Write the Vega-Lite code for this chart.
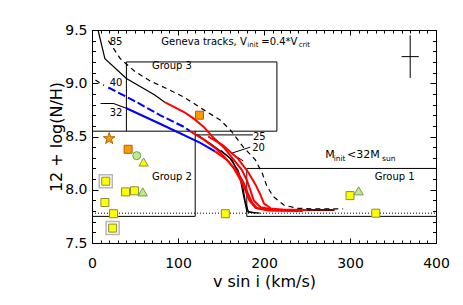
{
 "$schema": "https://vega.github.io/schema/vega-lite/v6.json",
 "width": 344, "height": 213,
 "autosize": "none",
 "padding": {"left": 92, "top": 30, "right": 27, "bottom": 62},
 "background": "white",
 "config": {"view": {"stroke": null}, "font": "DejaVu Sans",
   "axis": {"grid": false, "tickColor": "black", "domainColor": "black", "labelColor": "black", "titleColor": "black", "tickWidth": 1, "domainWidth": 1}},
 "datasets": {
  "tracks": [
   {"s":"A1","c":"k","d":"s","x":7,"y":9.5},{"s":"A1","c":"k","d":"s","x":15,"y":9.23},{"s":"A1","c":"k","d":"s","x":40,"y":9.045},{"s":"A1","c":"k","d":"s","x":73,"y":8.89},{"s":"A1","c":"k","d":"s","x":85,"y":8.82},
   {"s":"A2","c":"r","d":"s","x":85,"y":8.82},{"s":"A2","c":"r","d":"s","x":107,"y":8.73},{"s":"A2","c":"r","d":"s","x":118,"y":8.67},{"s":"A2","c":"r","d":"s","x":130,"y":8.59},{"s":"A2","c":"r","d":"s","x":141,"y":8.49},{"s":"A2","c":"r","d":"s","x":153,"y":8.40},{"s":"A2","c":"r","d":"s","x":163,"y":8.30},{"s":"A2","c":"r","d":"s","x":174,"y":8.19},{"s":"A2","c":"r","d":"s","x":180,"y":8.09},{"s":"A2","c":"r","d":"s","x":184,"y":8.00},{"s":"A2","c":"r","d":"s","x":188,"y":7.90},{"s":"A2","c":"r","d":"s","x":196,"y":7.835},{"s":"A2","c":"r","d":"s","x":211,"y":7.815},{"s":"A2","c":"r","d":"s","x":250,"y":7.81},
   {"s":"A3","c":"dr","d":"s","x":250,"y":7.81},{"s":"A3","c":"dr","d":"s","x":282,"y":7.81},
   {"s":"B1","c":"k","d":"dash","x":19,"y":9.40},{"s":"B1","c":"k","d":"dash","x":33,"y":9.23},{"s":"B1","c":"k","d":"dash","x":50,"y":9.11},{"s":"B1","c":"k","d":"dash","x":68,"y":9.02},{"s":"B1","c":"k","d":"dash","x":87,"y":8.95},{"s":"B1","c":"k","d":"dash","x":107,"y":8.87},{"s":"B1","c":"k","d":"dash","x":130,"y":8.75},{"s":"B1","c":"k","d":"dash","x":149,"y":8.655},{"s":"B1","c":"k","d":"dash","x":161,"y":8.56},{"s":"B1","c":"k","d":"dash","x":176,"y":8.40},{"s":"B1","c":"k","d":"dash","x":190,"y":8.28},{"s":"B1","c":"k","d":"dash","x":198,"y":8.155},{"s":"B1","c":"k","d":"dash","x":203.5,"y":8.03},{"s":"B1","c":"k","d":"dash","x":211,"y":7.935},{"s":"B1","c":"k","d":"dash","x":223,"y":7.857},{"s":"B1","c":"k","d":"dash","x":238,"y":7.826},{"s":"B1","c":"k","d":"dash","x":260,"y":7.82},{"s":"B1","c":"k","d":"dash","x":292,"y":7.82},
   {"s":"C1","c":"k","d":"dash","x":4,"y":9.03},{"s":"C1","c":"k","d":"dash","x":14,"y":8.98},
   {"s":"C2","c":"b","d":"dash","x":19,"y":8.96},{"s":"C2","c":"b","d":"dash","x":48,"y":8.84},{"s":"C2","c":"b","d":"dash","x":79,"y":8.70},{"s":"C2","c":"b","d":"dash","x":107,"y":8.59},{"s":"C2","c":"b","d":"dash","x":114,"y":8.55},
   {"s":"C3","c":"r","d":"s","x":114,"y":8.55},{"s":"C3","c":"r","d":"s","x":130,"y":8.47},{"s":"C3","c":"r","d":"s","x":145,"y":8.38},{"s":"C3","c":"r","d":"s","x":155,"y":8.30},{"s":"C3","c":"r","d":"s","x":165,"y":8.20},{"s":"C3","c":"r","d":"s","x":172,"y":8.10},{"s":"C3","c":"r","d":"s","x":178,"y":8.00},{"s":"C3","c":"r","d":"s","x":183,"y":7.90},{"s":"C3","c":"r","d":"s","x":190,"y":7.83},{"s":"C3","c":"r","d":"s","x":205,"y":7.81},{"s":"C3","c":"r","d":"s","x":245,"y":7.80},
   {"s":"D1","c":"k","d":"s","x":10,"y":8.81},{"s":"D1","c":"k","d":"s","x":25,"y":8.81},{"s":"D1","c":"k","d":"s","x":40,"y":8.765},
   {"s":"D2","c":"b","d":"s","x":40,"y":8.765},{"s":"D2","c":"b","d":"s","x":79,"y":8.62},{"s":"D2","c":"b","d":"s","x":126,"y":8.44},{"s":"D2","c":"b","d":"s","x":143,"y":8.36},
   {"s":"D3","c":"r","d":"s","x":143,"y":8.36},{"s":"D3","c":"r","d":"s","x":157,"y":8.28},{"s":"D3","c":"r","d":"s","x":168,"y":8.18},{"s":"D3","c":"r","d":"s","x":176,"y":8.07},{"s":"D3","c":"r","d":"s","x":181,"y":7.97},{"s":"D3","c":"r","d":"s","x":186,"y":7.88},{"s":"D3","c":"r","d":"s","x":192,"y":7.825},{"s":"D3","c":"r","d":"s","x":205,"y":7.805},{"s":"D3","c":"r","d":"s","x":240,"y":7.80},
   {"s":"E1","c":"r","d":"s","x":135,"y":8.50},{"s":"E1","c":"r","d":"s","x":152,"y":8.42},{"s":"E1","c":"r","d":"s","x":170,"y":8.29},{"s":"E1","c":"r","d":"s","x":182,"y":8.16},{"s":"E1","c":"r","d":"s","x":190,"y":8.05},{"s":"E1","c":"r","d":"s","x":196,"y":7.95},{"s":"E1","c":"r","d":"s","x":200,"y":7.87},{"s":"E1","c":"r","d":"s","x":208,"y":7.825},{"s":"E1","c":"r","d":"s","x":222,"y":7.813},{"s":"E1","c":"r","d":"s","x":270,"y":7.81},
   {"s":"F1","c":"k","d":"s","x":122,"y":8.52},{"s":"F1","c":"k","d":"s","x":140,"y":8.42},{"s":"F1","c":"k","d":"s","x":160,"y":8.30},{"s":"F1","c":"k","d":"s","x":170,"y":8.18},{"s":"F1","c":"k","d":"s","x":175,"y":8.05},{"s":"F1","c":"k","d":"s","x":178,"y":7.90},{"s":"F1","c":"k","d":"s","x":182,"y":7.79},{"s":"F1","c":"k","d":"s","x":195,"y":7.78},
   {"s":"G1","c":"k","d":"s","x":150,"y":8.37},{"s":"G1","c":"k","d":"s","x":163,"y":8.28},{"s":"G1","c":"k","d":"s","x":172,"y":8.12},{"s":"G1","c":"k","d":"s","x":176,"y":7.95},{"s":"G1","c":"k","d":"s","x":180,"y":7.80},{"s":"G1","c":"k","d":"s","x":190,"y":7.78}
  ],
  "rules": [
   {"x":40,"y":8.55,"x2":40,"y2":9.2,"d":"s"},{"x":40,"y":9.2,"x2":215,"y2":9.2,"d":"s"},{"x":215,"y":9.2,"x2":215,"y2":8.55,"d":"s"},
   {"x":0,"y":8.55,"x2":215,"y2":8.55,"d":"s"},{"x":120,"y":8.55,"x2":120,"y2":7.75,"d":"s"},
   {"x":0,"y":7.75,"x2":120,"y2":7.75,"d":"s"},{"x":180,"y":7.75,"x2":400,"y2":7.75,"d":"s"},
   {"x":180,"y":7.75,"x2":180,"y2":8.2,"d":"s"},{"x":180,"y":8.2,"x2":400,"y2":8.2,"d":"s"},
   {"x":0,"y":7.78,"x2":400,"y2":7.78,"d":"dot"},
   {"x":120,"y":8.515,"x2":187,"y2":8.515,"d":"s"},
   {"x":162,"y":8.342,"x2":184,"y2":8.40,"d":"s"},{"x":162,"y":8.342,"x2":176,"y2":8.27,"d":"s"},
   {"x":370,"y":9.05,"x2":370,"y2":9.45,"d":"s"},{"x":360,"y":9.25,"x2":380,"y2":9.25,"d":"s"}
  ],
  "pts": [
   {"x":20,"y":8.48,"type":"star","framed":"no"},
   {"x":42,"y":8.38,"type":"osq","framed":"no"},
   {"x":125,"y":8.70,"type":"osq","framed":"no"},
   {"x":52,"y":8.32,"type":"gcirc","framed":"no"},
   {"x":60,"y":8.26,"type":"ytri","framed":"no"},
   {"x":16,"y":8.08,"type":"ysq","framed":"yes"},
   {"x":39,"y":7.98,"type":"ysq","framed":"no"},
   {"x":49.5,"y":7.99,"type":"ysq","framed":"no"},
   {"x":59,"y":7.98,"type":"gtri","framed":"no"},
   {"x":15,"y":7.88,"type":"ysq","framed":"no"},
   {"x":25,"y":7.775,"type":"ysq","framed":"no"},
   {"x":24,"y":7.64,"type":"ysq","framed":"yes"},
   {"x":155,"y":7.775,"type":"ysq","framed":"no"},
   {"x":300,"y":7.945,"type":"ysq","framed":"no"},
   {"x":310,"y":7.99,"type":"gtri","framed":"no"},
   {"x":330,"y":7.78,"type":"ysq","framed":"no"}
  ],
  "txt": [
   {"x":28,"y":9.39,"t":"85","r":"lab"},{"x":28,"y":9.005,"t":"40","r":"lab"},{"x":28,"y":8.72,"t":"32","r":"lab"},
   {"x":194.5,"y":8.50,"t":"25","r":"lab"},{"x":193.7,"y":8.39,"t":"20","r":"lab"},
   {"x":93,"y":9.16,"t":"Group 3","r":"grp"},{"x":93,"y":8.12,"t":"Group 2","r":"grp"},{"x":352,"y":8.12,"t":"Group 1","r":"grp"},
   {"x":80.6,"y":9.383,"t":"Geneva tracks, V","r":"main"},{"x":196.9,"y":9.383,"t":"=0.4*V","r":"main"},
   {"x":180.6,"y":9.383,"t":"init","r":"sub"},{"x":240.3,"y":9.383,"t":"crit","r":"sub"},
   {"x":271.3,"y":8.326,"t":"M","r":"mainb"},{"x":296.6,"y":8.326,"t":"<32M","r":"mainb"},
   {"x":281,"y":8.326,"t":"init","r":"subb"},{"x":337.2,"y":8.326,"t":"sun","r":"subb"}
  ]
 },
 "resolve": {"axis": {"x": "independent", "y": "independent"}},
 "layer": [
  {
   "encoding": {
    "x": {"field":"x","type":"quantitative","scale":{"domain":[0,400],"nice":false,"zero":false},
      "axis":{"orient":"bottom","values":[0,100,200,300,400],"tickSize":-5,"labelFont":"DejaVu Sans","labelFontSize":14,"labelPadding":18,"labelFlush":false,"title":"v sin i (km/s)","titleFont":"DejaVu Sans","titleFontSize":16,"titleFontWeight":"normal","titlePadding":3}},
    "y": {"field":"y","type":"quantitative","scale":{"domain":[7.5,9.5],"nice":false,"zero":false},
      "axis":{"orient":"left","values":[7.5,8,8.5,9,9.5],"format":".1f","tickSize":-6,"labelFont":"DejaVu Sans","labelFontSize":14,"labelPadding":11,"labelFlush":false,"title":"12 + log(N/H)","titleFont":"DejaVu Sans","titleFontSize":16,"titleFontWeight":"normal","titlePadding":0}}
   },
   "layer": [
    {"data":{"name":"rules"},"transform":[{"filter":"datum.d=='s'"}],"mark":{"type":"rule","color":"black","strokeWidth":1},
     "encoding":{"x2":{"field":"x2"},"y2":{"field":"y2"}}},
    {"data":{"name":"rules"},"transform":[{"filter":"datum.d=='dot'"}],"mark":{"type":"rule","color":"black","strokeWidth":1,"strokeDash":[1,2]},
     "encoding":{"x2":{"field":"x2"},"y2":{"field":"y2"}}},
    {"data":{"name":"tracks"},"transform":[{"filter":"datum.c=='k' && datum.d=='s'"}],"mark":{"type":"line","color":"black","strokeWidth":1.2},
     "encoding":{"detail":{"field":"s","type":"nominal"}}},
    {"data":{"name":"tracks"},"transform":[{"filter":"datum.c=='k' && datum.d=='dash'"}],"mark":{"type":"line","color":"black","strokeWidth":1.2,"strokeDash":[5,4]},
     "encoding":{"detail":{"field":"s","type":"nominal"}}},
    {"data":{"name":"tracks"},"transform":[{"filter":"datum.c=='b' && datum.d=='s'"}],"mark":{"type":"line","color":"#0000ff","strokeWidth":2},
     "encoding":{"detail":{"field":"s","type":"nominal"}}},
    {"data":{"name":"tracks"},"transform":[{"filter":"datum.c=='b' && datum.d=='dash'"}],"mark":{"type":"line","color":"#0000ff","strokeWidth":2,"strokeDash":[8,3]},
     "encoding":{"detail":{"field":"s","type":"nominal"}}},
    {"data":{"name":"tracks"},"transform":[{"filter":"datum.c=='r'"}],"mark":{"type":"line","color":"#ff0000","strokeWidth":2},
     "encoding":{"detail":{"field":"s","type":"nominal"}}},
    {"data":{"name":"tracks"},"transform":[{"filter":"datum.c=='dr'"}],"mark":{"type":"line","color":"#7a0000","strokeWidth":2},
     "encoding":{"detail":{"field":"s","type":"nominal"}}},
    {"data":{"name":"pts"},"transform":[{"filter":"datum.framed=='yes'"}],
     "mark":{"type":"point","shape":"square","filled":false,"stroke":"#999999","strokeWidth":1.5,"size":170}},
    {"data":{"name":"pts"},"transform":[{"filter":"datum.type=='ysq'"}],
     "mark":{"type":"point","shape":"square","filled":true,"fill":"#ffff00","stroke":"#8c8c3c","strokeWidth":1,"size":64,"opacity":1}},
    {"data":{"name":"pts"},"transform":[{"filter":"datum.type=='osq'"}],
     "mark":{"type":"point","shape":"square","filled":true,"fill":"#ff9900","stroke":"#aa6600","strokeWidth":1,"size":64,"opacity":1}},
    {"data":{"name":"pts"},"transform":[{"filter":"datum.type=='star'"}],
     "mark":{"type":"point","shape":"M0,-1L0.2234,-0.3074L0.9511,-0.309L0.3614,0.1174L0.5878,0.809L0,0.38L-0.5878,0.809L-0.3614,0.1174L-0.9511,-0.309L-0.2234,-0.3074Z","filled":true,"fill":"#ff9900","stroke":"#aa6600","strokeWidth":1,"size":150,"opacity":1}},
    {"data":{"name":"pts"},"transform":[{"filter":"datum.type=='gcirc'"}],
     "mark":{"type":"point","shape":"circle","filled":true,"fill":"#bbee88","stroke":"#779955","strokeWidth":1,"size":64,"opacity":1}},
    {"data":{"name":"pts"},"transform":[{"filter":"datum.type=='ytri'"}],
     "mark":{"type":"point","shape":"triangle-up","filled":true,"fill":"#ffff00","stroke":"#8c8c3c","strokeWidth":1,"size":86,"opacity":1}},
    {"data":{"name":"pts"},"transform":[{"filter":"datum.type=='gtri'"}],
     "mark":{"type":"point","shape":"triangle-up","filled":true,"fill":"#bbee88","stroke":"#779955","strokeWidth":1,"size":86,"opacity":1}},
    {"data":{"name":"txt"},"transform":[{"filter":"datum.r=='lab'"}],
     "mark":{"type":"text","font":"DejaVu Sans","fontSize":10,"align":"center","baseline":"middle","color":"black"},
     "encoding":{"text":{"field":"t","type":"nominal"}}},
    {"data":{"name":"txt"},"transform":[{"filter":"datum.r=='grp'"}],
     "mark":{"type":"text","font":"DejaVu Sans","fontSize":10,"align":"center","baseline":"middle","color":"black"},
     "encoding":{"text":{"field":"t","type":"nominal"}}},
    {"data":{"name":"txt"},"transform":[{"filter":"datum.r=='main'"}],
     "mark":{"type":"text","font":"DejaVu Sans","fontSize":10,"align":"left","baseline":"middle","color":"black"},
     "encoding":{"text":{"field":"t","type":"nominal"}}},
    {"data":{"name":"txt"},"transform":[{"filter":"datum.r=='sub'"}],
     "mark":{"type":"text","font":"DejaVu Sans","fontSize":7,"align":"left","baseline":"middle","dy":3,"color":"black"},
     "encoding":{"text":{"field":"t","type":"nominal"}}},
    {"data":{"name":"txt"},"transform":[{"filter":"datum.r=='mainb'"}],
     "mark":{"type":"text","font":"DejaVu Sans","fontSize":11,"align":"left","baseline":"middle","color":"black"},
     "encoding":{"text":{"field":"t","type":"nominal"}}},
    {"data":{"name":"txt"},"transform":[{"filter":"datum.r=='subb'"}],
     "mark":{"type":"text","font":"DejaVu Sans","fontSize":7.5,"align":"left","baseline":"middle","dy":3.5,"color":"black"},
     "encoding":{"text":{"field":"t","type":"nominal"}}}
   ]
  },
  {
   "data":{"name":"pts"},"mark":{"type":"point","opacity":0},
   "encoding":{
    "x":{"field":"x","type":"quantitative","scale":{"domain":[0,400],"nice":false,"zero":false},
      "axis":{"orient":"bottom","values":[0,10,20,30,40,50,60,70,80,90,100,110,120,130,140,150,160,170,180,190,200,210,220,230,240,250,260,270,280,290,300,310,320,330,340,350,360,370,380,390,400],"tickSize":-3,"labels":false,"domain":false,"title":null}},
    "y":{"field":"y","type":"quantitative","scale":{"domain":[7.5,9.5],"nice":false,"zero":false},
      "axis":{"orient":"left","values":[7.5,7.6,7.7,7.8,7.9,8.0,8.1,8.2,8.3,8.4,8.5,8.6,8.7,8.8,8.9,9.0,9.1,9.2,9.3,9.4,9.5],"tickSize":-3.5,"labels":false,"domain":false,"title":null}}
   }
  },
  {
   "data":{"name":"pts"},"mark":{"type":"point","opacity":0},
   "encoding":{
    "x":{"field":"x","type":"quantitative","scale":{"domain":[0,400],"nice":false,"zero":false},
      "axis":{"orient":"top","values":[0,100,200,300,400],"tickSize":-5,"labels":false,"domain":true,"title":null}},
    "y":{"field":"y","type":"quantitative","scale":{"domain":[7.5,9.5],"nice":false,"zero":false},
      "axis":{"orient":"right","values":[7.5,8,8.5,9,9.5],"tickSize":-6,"labels":false,"domain":true,"title":null}}
   }
  },
  {
   "data":{"name":"pts"},"mark":{"type":"point","opacity":0},
   "encoding":{
    "x":{"field":"x","type":"quantitative","scale":{"domain":[0,400],"nice":false,"zero":false},
      "axis":{"orient":"top","values":[0,10,20,30,40,50,60,70,80,90,100,110,120,130,140,150,160,170,180,190,200,210,220,230,240,250,260,270,280,290,300,310,320,330,340,350,360,370,380,390,400],"tickSize":-3,"labels":false,"domain":false,"title":null}},
    "y":{"field":"y","type":"quantitative","scale":{"domain":[7.5,9.5],"nice":false,"zero":false},
      "axis":{"orient":"right","values":[7.5,7.6,7.7,7.8,7.9,8.0,8.1,8.2,8.3,8.4,8.5,8.6,8.7,8.8,8.9,9.0,9.1,9.2,9.3,9.4,9.5],"tickSize":-3.5,"labels":false,"domain":false,"title":null}}
   }
  }
 ]
}
